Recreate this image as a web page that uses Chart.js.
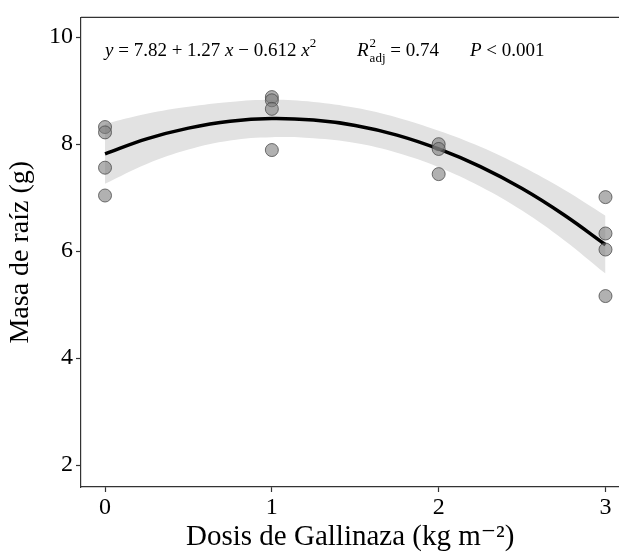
<!DOCTYPE html>
<html>
<head>
<meta charset="utf-8">
<script src="https://cdn.jsdelivr.net/npm/chart.js@4.4.0/dist/chart.umd.min.js"></script>
<style>
  html, body { margin:0; padding:0; background:#fff; overflow:hidden; }
  #wrap { width:619px; height:556px; overflow:hidden; }
</style>
</head>
<body>
<div id="wrap"><canvas id="c" width="627" height="556"></canvas></div>
<script>
// observed points (dose, root mass)
const doseObs = [0, 0, 0, 0, 1, 1, 1, 1, 2, 2, 2, 3, 3, 3, 3];
const massObs = [8.32, 8.22, 7.56, 7.04, 8.88, 8.82, 8.66, 7.89, 8.00, 7.91, 7.44, 7.01, 6.33, 6.03, 5.16];

// fitted curve and confidence band
const doseFit = [0, 0.25, 0.5, 0.75, 1, 1.25, 1.5, 1.75, 2, 2.25, 2.5, 2.75, 3];
const massFit = [7.82, 8.10, 8.30, 8.43, 8.48, 8.45, 8.35, 8.17, 7.91, 7.58, 7.17, 6.68, 6.12];
const bandUp  = [8.38, 8.57, 8.70, 8.79, 8.83, 8.79, 8.68, 8.50, 8.25, 7.95, 7.58, 7.15, 6.66];
const bandLow = [7.26, 7.63, 7.90, 8.07, 8.13, 8.11, 8.02, 7.84, 7.57, 7.21, 6.76, 6.21, 5.58];

const xTicks = [0, 1, 2, 3];
const yTicks = [2, 4, 6, 8, 10];

const serif = '"Liberation Serif", "DejaVu Serif", serif';
const pts = (xs, ys) => xs.map((x, i) => ({x:x, y:ys[i]}));

// top border + equation text
const extras = {
  id:'extras',
  afterDraw(chart){
    const {ctx, chartArea:a} = chart;
    ctx.save();
    ctx.strokeStyle = '#333';
    ctx.lineWidth = 1.2;
    ctx.beginPath();
    ctx.moveTo(a.left, a.top); ctx.lineTo(chart.width, a.top);
    ctx.stroke();

    ctx.fillStyle = '#000';
    ctx.textBaseline = 'alphabetic';
    const base = 56;
    let x = 105;
    const put = (t, style, size, dy) => {
      ctx.font = (style || '') + ' ' + (size || 19) + 'px ' + serif;
      ctx.fillText(t, x, base + (dy || 0));
      x += ctx.measureText(t).width;
    };
    put('y', 'italic'); put(' = 7.82 + 1.27 '); put('x', 'italic'); put(' \u2212 0.612 '); put('x', 'italic');
    put('2', '', 13, -9);
    x = 357;
    put('R', 'italic');
    const rx = x + 1;
    x = rx; put('2', '', 13, -9);
    x = rx; put('adj', '', 13, 6);
    put(' = 0.74');
    x = 470;
    put('P', 'italic'); put(' < 0.001');
    ctx.restore();
  }
};

new Chart(document.getElementById('c'), {
  type:'scatter',
  data:{
    datasets:[
      { data:pts(doseObs, massObs), pointRadius:6.5, pointHoverRadius:6.5,
        backgroundColor:'rgba(125,125,125,0.6)', borderColor:'rgba(70,70,70,0.75)', borderWidth:1, order:0 },
      { data:pts(doseFit, massFit), showLine:true, pointRadius:0, borderColor:'#000', borderWidth:3.5,
        tension:0.4, order:1 },
      { data:pts(doseFit, bandUp), showLine:true, pointRadius:0, borderWidth:0, borderColor:'rgba(0,0,0,0)',
        backgroundColor:'#e2e2e2', fill:'+1', tension:0.4, order:2 },
      { data:pts(doseFit, bandLow), showLine:true, pointRadius:0, borderWidth:0, borderColor:'rgba(0,0,0,0)',
        tension:0.4, order:3 }
    ]
  },
  options:{
    responsive:false,
    animation:false,
    layout:{ padding:{ top:15, right:0, left:0, bottom:0 } },
    plugins:{ legend:{display:false}, tooltip:{enabled:false} },
    scales:{
      x:{
        type:'linear', min:-0.144, max:3.084,
        afterBuildTicks: s => { s.ticks = xTicks.map(v => ({value:v})); },
        afterFit: s => { s.height = 69; },
        grid:{ drawOnChartArea:false, tickLength:5, tickColor:'#333', tickWidth:1.2 },
        border:{ color:'#333', width:1.2 },
        ticks:{ color:'#000', font:{family:serif, size:24}, padding:1 },
        title:{ display:true, text:'Dosis de Gallinaza (kg m\u207B\u00B2)', color:'#000',
                font:{family:serif, size:29}, padding:{top:0, bottom:1} }
      },
      y:{
        min:1.59, max:10.37,
        afterBuildTicks: s => { s.ticks = yTicks.map(v => ({value:v})); },
        afterFit: s => { s.width = 81; },
        grid:{ drawOnChartArea:false, tickLength:5, tickColor:'#333', tickWidth:1.2 },
        border:{ color:'#333', width:1.2 },
        ticks:{ color:'#000', font:{family:serif, size:24}, padding:3 },
        title:{ display:true, text:'Masa de raíz (g)', color:'#000',
                font:{family:serif, size:28}, padding:{top:4, bottom:0} }
      }
    }
  },
  plugins:[extras]
});
</script>
</body>
</html>
